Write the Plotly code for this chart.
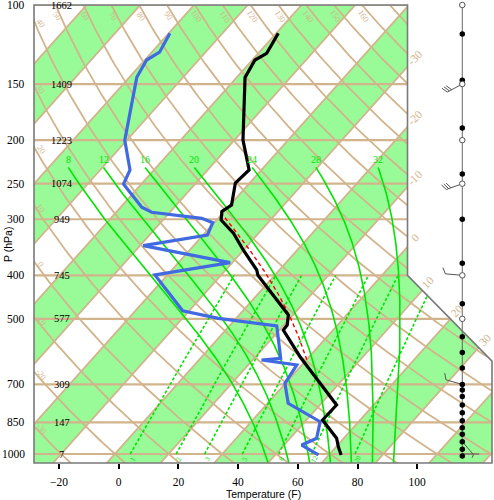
import numpy as np
import plotly.graph_objects as go

# ---------------- data ----------------
# temperature profile (pressure hPa, temperature F)
temp_p = [115.6, 128.1, 132.6, 145.0, 200, 233.1, 249.2, 278.9, 288.3, 301.2, 322.4, 351.3,
          389.2, 400, 490.3, 516.1, 529.5, 607.2, 777.8, 840, 922.6, 963.3, 1005]
temp_f = [-75.3, -73.2, -75.1, -73.2, -55.1, -44.1, -44.8, -39.5, -40.8, -38.5, -30.4, -22.1,
          -11.6, -9.6, 12.5, 15.1, 15.3, 28.9, 55.6, 55.4, 65.6, 68.7, 72.1]
# dewpoint profile
dewp_p = [115.6, 127.4, 132.6, 144.9, 200, 233.1, 250.4, 282.2, 289.5, 298.6, 305.4, 325.3,
          343.6, 374.9, 399.3, 479.6, 498.6, 518.7, 612.2, 617.5, 633.5, 695.9, 771.1, 847.4,
          922.6, 954.9, 1005]
dewp_f = [-111.6, -109.4, -111.4, -109.5, -94.7, -84.0, -82.0, -68.9, -64.1, -45.5, -40.5, -38.6,
          -56.9, -22.7, -44.2, -24.2, -10.0, 11.9, 22.9, 17.0, 30.3, 31.8, 38.9, 55.1,
          58.9, 55.9, 64.5]
# mandatory levels and their heights (dam)
mand_p = [100, 150, 200, 250, 300, 400, 500, 700, 850, 1000]
mand_hgt = ["1662", "1409", "1223", "1074", "949", "745", "577", "309", "147", "7"]
x_ticks = [-20, 0, 20, 40, 60, 80, 100]
# background families (deg C / g/kg)
isotherm_c = list(range(-130, 80, 10))
band_start_c = list(range(-120, 60, 20))
iso_label_c = [-30, -20, -10, 0, 10, 20, 30]
theta_c = list(range(-30, 170, 10))
theta_w_c = [8, 12, 16, 20, 24, 28, 32]
mix_ratio = [1, 2, 3, 5, 8, 12, 20]
# lifted parcel segment
parcel_p0, parcel_t0_f, parcel_top = 617.0, 32.1, 289.0
# wind column: reported levels
lvl_filled = [116, 147, 188, 238, 300, 376, 463, 548, 594, 643, 700, 720, 745, 778,
              809, 843, 874, 904, 939, 976, 1010]
lvl_open = [100, 150, 200, 250, 400, 500]
barb_p = [150, 250, 400, 700, 939, 1000]
barb_dir = [242, 250, 275, 286, 139, 90]
barb_kt = [30, 30, 10, 10, 5, 0]

# ---------------- geometry ----------------
W, H = 494, 500
ML, MR, MT, MB = 34, 2, 5, 37
PW, PH = W - ML - MR, H - MT - MB
PBOT, PTOP = 1047.2, 100.0
PXF = 2.985                      # px per deg F
XMIN = -28.38
XMAX = XMIN + PW / PXF
SY = PH / np.log(PBOT / PTOP)    # px per ln p
SKEW = 0.8944 * SY / PXF         # deg F per ln p
XB = 96.75                        # right edge of upper chart part
PB1, PB2 = 400.0, 621.0           # cut-off diagonal
XCOL = 115.1                      # wind column
TAN = "#D2B48C"
GREEN_FILL = "#98FB98"
LIME = "#00E400"
SERIF = "Liberation Serif"
SANS = "Liberation Sans"


def c2f(c):
    return np.asarray(c) * 1.8 + 32.0


def xs(tf, p):
    return np.asarray(tf) + SKEW * np.log(PBOT / np.asarray(p))


RD, CP, LV, EPS = 287.04, 1005.7, 2.501e6, 0.622


def esat(tc):
    return 6.112 * np.exp(17.67 * tc / (tc + 243.5))


def lapse(p, tk):
    es = esat(tk - 273.15)
    rs = EPS * es / (p - es)
    return (RD * tk + LV * rs) / (CP + LV * LV * rs * EPS / (RD * tk * tk)) / p


def moist(p0, tk0, p1, dp=2.0):
    n = int(abs(p1 - p0) / dp) + 1
    ps = np.linspace(p0, p1, n)
    t = tk0
    out = [t]
    for i in range(n - 1):
        h = ps[i + 1] - ps[i]
        p = ps[i]
        k1 = lapse(p, t)
        k2 = lapse(p + h / 2, t + h / 2 * k1)
        k3 = lapse(p + h / 2, t + h / 2 * k2)
        k4 = lapse(p + h, t + h * k3)
        t = t + h / 6 * (k1 + 2 * k2 + 2 * k3 + k4)
        out.append(t)
    return ps, np.array(out)


def k2f(tk):
    return (np.asarray(tk) - 273.15) * 1.8 + 32


fig = go.Figure()


def line(x, y, color, width, dash=None, **kw):
    fig.add_trace(go.Scatter(x=list(x), y=list(y), mode="lines",
                             line=dict(color=color, width=width, dash=dash),
                             hoverinfo="skip", showlegend=False, **kw))


PLO, PHI = 1300.0, 80.0
# green bands between isotherms
for tc in band_start_c:
    t1, t2 = c2f(tc), c2f(tc + 10)
    bx = [xs(t1, PLO), xs(t1, PHI), xs(t2, PHI), xs(t2, PLO), xs(t1, PLO)]
    by = [PLO, PHI, PHI, PLO, PLO]
    fig.add_trace(go.Scatter(x=bx, y=by, mode="lines", fill="toself", fillcolor=GREEN_FILL,
                             line=dict(width=0, color=GREEN_FILL), hoverinfo="skip",
                             showlegend=False))

# isotherms
ix, iy = [], []
for tc in isotherm_c:
    ix += [xs(c2f(tc), PLO), xs(c2f(tc), PHI), None]
    iy += [PLO, PHI, None]
line(ix, iy, TAN, 1.8)

# dry adiabats
pg = np.geomspace(PHI, PLO, 150)
dx, dy = [], []
for th in theta_c + [170, 180]:
    tk = (th + 273.15) * (pg / 1000.0) ** 0.2857
    dx += list(xs(k2f(tk), pg)) + [None]
    dy += list(pg) + [None]
line(dx, dy, TAN, 1.8)

# isobars
bx, by = [], []
for p in mand_p:
    bx += [XMIN - 20, XMAX + 20, None]
    by += [p, p, None]
line(bx, by, TAN, 2.2)

# moist adiabats
mx, my, mtop = [], [], []
for tw in theta_w_c:
    pu, tu = moist(1000.0, tw + 273.15, 230.0)
    pd, td = moist(1000.0, tw + 273.15, 1080.0)
    pp = np.concatenate([pd[::-1], pu[1:]])
    tt = np.concatenate([td[::-1], tu[1:]])
    mx += list(xs(k2f(tt), pp)) + [None]
    my += list(pp) + [None]
    mtop.append((xs(k2f(tu[-1]), pu[-1]), pu[-1]))
line(mx, my, LIME, 1.6)

# mixing ratio lines
wx, wy, wbot = [], [], []
pw = np.linspace(1000, 400, 60)
for w in mix_ratio:
    e = w * pw / (622.0 + w)
    L = np.log(e / 6.112)
    td = 243.5 * L / (17.67 - L)
    wx += list(xs(c2f(td), pw)) + [None]
    wy += list(pw) + [None]
    wbot.append(xs(c2f(td[0]), 1000.0))
line(wx, wy, LIME, 1.6, dash="3px,2px")

# parcel path
pp_, tp_ = moist(parcel_p0, (parcel_t0_f - 32) / 1.8 + 273.15, parcel_top)
line(xs(k2f(tp_), pp_), pp_, "#FF0000", 1.4, dash="4px,3px")

# dewpoint and temperature
line(xs(dewp_f, dewp_p), dewp_p, "#4169E1", 3.2)
line(xs(temp_f, temp_p), temp_p, "#000000", 3.2)

# mask outside the chart outline
fig.add_trace(go.Scatter(x=[XB, 300, 300, XMAX, XB, XB], y=[60, 60, PB2, PB2, PB1, 60],
                         mode="lines", fill="toself", fillcolor="white",
                         line=dict(width=0, color="white"), hoverinfo="skip", showlegend=False))

# wind column
line([XCOL, XCOL], [PTOP, 1012], "#666666", 1.0)


def off(X, p, dxp, dyp):
    return X + dxp / PXF, p * np.exp(dyp / SY)


brx, bry = [], []
SH, FL = 17.0, 6.0
for p, d, s in zip(barb_p, barb_dir, barb_kt):
    ux, uy = np.sin(np.radians(d)), -np.cos(np.radians(d))
    tx, ty = off(XCOL, p, SH * ux, SH * uy)
    brx += [XCOL, tx, None]
    bry += [p, ty, None]
    px_, py_ = -uy, ux
    n_full, half = int(s // 10), (s % 10) >= 5
    pos = SH
    for i in range(n_full):
        a = off(XCOL, p, pos * ux, pos * uy)
        b = off(XCOL, p, pos * ux + FL * px_ + 0.5 * FL * ux, pos * uy + FL * py_ + 0.5 * FL * uy)
        brx += [a[0], b[0], None]
        bry += [a[1], b[1], None]
        pos -= 2.5
    if half:
        a = off(XCOL, p, pos * ux, pos * uy)
        b = off(XCOL, p, pos * ux + 0.5 * FL * px_ + 0.25 * FL * ux,
                pos * uy + 0.5 * FL * py_ + 0.25 * FL * uy)
        brx += [a[0], b[0], None]
        bry += [a[1], b[1], None]
line(brx, bry, "#555555", 1.0)

fig.add_trace(go.Scatter(x=[XCOL] * len(lvl_filled), y=lvl_filled, mode="markers",
                         marker=dict(size=5.5, color="black"), cliponaxis=False,
                         hoverinfo="skip", showlegend=False))
fig.add_trace(go.Scatter(x=[XCOL] * len(lvl_open), y=lvl_open, mode="markers",
                         marker=dict(size=5.5, color="white", line=dict(color="#555555", width=1)),
                         cliponaxis=False, hoverinfo="skip", showlegend=False))

# ---------------- annotations ----------------
ann = []
LT = np.log(PBOT / PTOP)


def px_x(X):
    return (X - XMIN) / (XMAX - XMIN)


def px_y(p):
    return np.log(PBOT / p) / LT


# pressure labels on the left (as text, so the top one is kept)
for p in mand_p:
    ann.append(dict(x=-7.5 / PW, y=np.log10(p), xref="paper", yref="y", text=str(p),
                    showarrow=False, xanchor="right", yanchor="middle",
                    font=dict(family=SERIF, size=11.5, color="black")))

for p, h in zip(mand_p, mand_hgt):
    ann.append(dict(x=px_x(XMIN + 27.5 / PXF), y=np.log10(p), xref="paper", yref="y", text=h,
                    showarrow=False, xanchor="center", yanchor="middle",
                    font=dict(family=SERIF, size=10.5, color="black")))

for (X, p), tw in zip(mtop, theta_w_c):
    ann.append(dict(x=X, y=np.log10(p), xref="x", yref="y", text=str(tw), showarrow=False,
                    yanchor="bottom", font=dict(family=SERIF, size=10, color=LIME)))

for X, w in zip(wbot, mix_ratio):
    ann.append(dict(x=X, y=np.log10(1000), xref="x", yref="y", text=str(w), showarrow=False,
                    xshift=3, yshift=-5, textangle=-60,
                    font=dict(family=SERIF, size=7, color=LIME)))

# dry adiabat labels
for th in theta_c:
    Xt = xs(k2f((th + 273.15) * (PTOP / 1000.0) ** 0.2857), PTOP)
    if Xt >= XMIN:
        ann.append(dict(x=Xt, y=np.log10(PTOP), xref="x", yref="y", text=str(th), showarrow=False,
                        yshift=-11, xshift=2, textangle=55,
                        font=dict(family=SERIF, size=8.5, color=TAN)))
    else:
        pp = np.geomspace(100, 1100, 4000)
        Xp = xs(k2f((th + 273.15) * (pp / 1000.0) ** 0.2857), pp)
        i = int(np.argmin(np.abs(Xp - XMIN)))
        ann.append(dict(x=XMIN, y=np.log10(pp[i]), xref="x", yref="y", text=str(th),
                        showarrow=False, xshift=7, yshift=-2, textangle=55,
                        font=dict(family=SERIF, size=8.5, color=TAN)))

# isotherm labels on the right outline
for tc in iso_label_c:
    tf = c2f(tc)
    p_edge = PBOT * np.exp(-(XB - tf) / SKEW)
    if p_edge <= PB1:
        ann.append(dict(x=XB, y=np.log10(p_edge), xref="x", yref="y", text=str(tc),
                        showarrow=False, xshift=7, yshift=9, textangle=-45,
                        font=dict(family=SERIF, size=11.5, color=TAN)))
    else:
        tt = np.linspace(0, 1, 2000)
        Xd = XB + (XMAX - XB) * tt
        pd_ = np.exp(np.log(PB1) + (np.log(PB2) - np.log(PB1)) * tt)
        i = int(np.argmin(np.abs(Xd - xs(tf, pd_))))
        ann.append(dict(x=Xd[i], y=np.log10(pd_[i]), xref="x", yref="y", text=str(tc),
                        showarrow=False, xshift=6, yshift=8, textangle=-45,
                        font=dict(family=SERIF, size=11.5, color=TAN)))

ann.append(dict(x=0.5, y=-30.5 / PH, xref="paper", yref="paper", text="Temperature (F)",
                showarrow=False, xanchor="center", yanchor="middle",
                font=dict(family=SANS, size=10.5, color="black")))
ann.append(dict(x=-26 / PW, y=(PH - 240) / PH, xref="paper", yref="paper", text="P (hPa)",
                showarrow=False, xanchor="center", yanchor="middle", textangle=-90,
                font=dict(family=SANS, size=10.5, color="black")))

# outline frame
pts = [(XMIN, PTOP), (XB, PTOP), (XB, PB1), (XMAX, PB2), (XMAX, PBOT), (XMIN, PBOT)]
path = "M " + " L ".join(f"{px_x(X):.5f},{px_y(p):.5f}" for X, p in pts) + " Z"
shapes = [dict(type="path", path=path, xref="paper", yref="paper", layer="above",
               line=dict(color="#7a7a7a", width=1.6))]

fig.update_layout(
    width=W, height=H, margin=dict(l=ML, r=MR, t=MT, b=MB),
    paper_bgcolor="white", plot_bgcolor="white",
    annotations=ann, shapes=shapes,
    xaxis=dict(range=[XMIN, XMAX], tickvals=x_ticks, ticks="outside", ticklen=5, tickwidth=1.5,
               tickcolor="black", showgrid=False, zeroline=False, showline=False,
               ticklabelstandoff=3,
               tickfont=dict(family=SERIF, size=11.5, color="black")),
    yaxis=dict(type="log", range=[np.log10(PBOT), np.log10(PTOP)], tickvals=mand_p,
               showticklabels=False, ticks="", showgrid=False, zeroline=False, showline=False),
)

fig.write_html("out.html")
